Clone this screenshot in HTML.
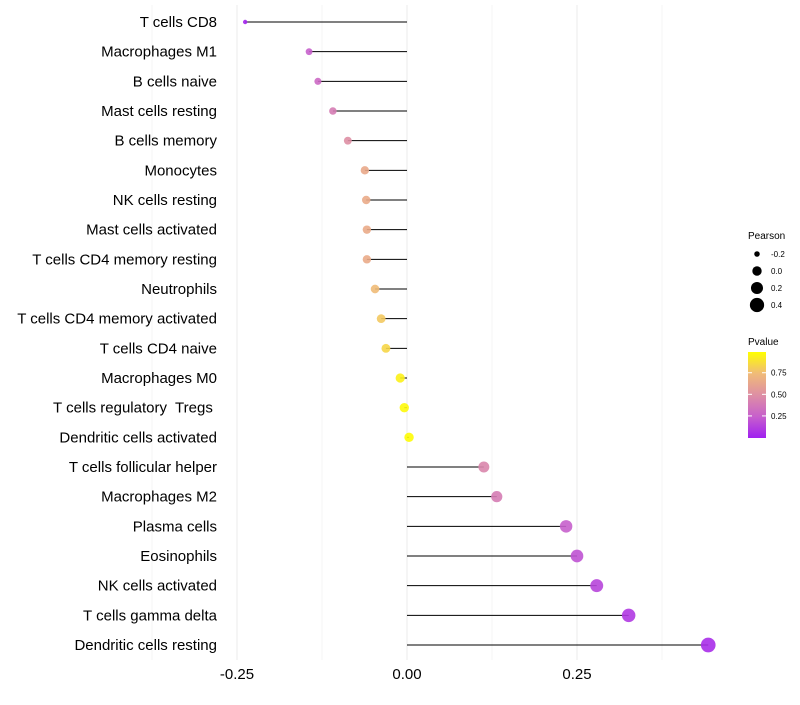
<!DOCTYPE html>
<html><head><meta charset="utf-8"><style>
body{margin:0;background:#fff;font-family:"Liberation Sans",Arial,sans-serif}
svg text{font-family:"Liberation Sans",Arial,sans-serif;white-space:pre}
</style></head><body>
<svg id="chart" width="800" height="700">
<defs><linearGradient id="pg" x1="0" y1="1" x2="0" y2="0">
<stop offset="0" stop-color="#a020f0"/><stop offset="0.25" stop-color="#c760cc"/>
<stop offset="0.5" stop-color="#de8fa4"/><stop offset="0.75" stop-color="#f0bb78"/>
<stop offset="1" stop-color="#ffff00"/></linearGradient></defs>
<g id="grid"></g><g id="marks"></g><g id="labels"></g><g id="legend"></g>
</svg>
<script>
const categories=["T cells CD8","Macrophages M1","B cells naive","Mast cells resting","B cells memory","Monocytes","NK cells resting","Mast cells activated","T cells CD4 memory resting","Neutrophils","T cells CD4 memory activated","T cells CD4 naive","Macrophages M0","T cells regulatory  Tregs ","Dendritic cells activated","T cells follicular helper","Macrophages M2","Plasma cells","Eosinophils","NK cells activated","T cells gamma delta","Dendritic cells resting"];
const pearson=[-0.238,-0.144,-0.131,-0.109,-0.087,-0.062,-0.060,-0.059,-0.059,-0.047,-0.038,-0.031,-0.010,-0.004,0.003,0.113,0.132,0.234,0.250,0.279,0.326,0.443];
const pvalue=[0.02,0.25,0.3,0.4,0.5,0.65,0.66,0.66,0.66,0.75,0.8,0.85,0.95,0.98,0.99,0.45,0.4,0.25,0.2,0.15,0.1,0.05];
const xTicks=[-0.25,0,0.25];
const xTickLabels=["-0.25","0.00","0.25"];
const sizeLegend=[-0.2,0,0.2,0.4];
const pLegend=[0.25,0.5,0.75];
const NS="http://www.w3.org/2000/svg";
function X(v){return 407+v*680;}
function Y(i){return 22+i*(623/21);}
function R(v){return Math.sqrt(Math.max(1.5,22+72*v));}
function hex(c){return c.map(x=>Math.round(x)).reduce((s,x)=>s+x.toString(16).padStart(2,'0'),'#');}
const stops=[[0,[160,32,240]],[0.25,[199,96,204]],[0.5,[222,143,164]],[0.75,[240,187,120]],[1,[255,255,0]]];
function col(p){for(let i=0;i<stops.length-1;i++){const a=stops[i],b=stops[i+1];if(p<=b[0]){const t=(p-a[0])/(b[0]-a[0]);return hex(a[1].map((v,k)=>v+(b[1][k]-v)*t));}}return "#ffff00";}
function mk(t,attrs,parent){const e=document.createElementNS(NS,t);for(const k in attrs)e.setAttribute(k,attrs[k]);document.getElementById(parent).appendChild(e);return e;}
[-0.375,-0.25,-0.125,0,0.125,0.25,0.375].forEach(v=>{const l=mk('line',{x1:X(v),x2:X(v),y1:5,y2:660,stroke:(v*8)%2===0?'#ebebeb':'#f5f5f5','stroke-width':1},'grid');

});
xTicks.forEach((v,i)=>{const t=mk('text',{x:X(v),y:679,'text-anchor':'middle','font-size':15,fill:'#000'},'labels');t.textContent=xTickLabels[i];

});
categories.forEach((c,i)=>{const y=Y(i);
const t=mk('text',{x:217,y:y+5,'text-anchor':'end','font-size':15,fill:'#000'},'labels');t.textContent=c;


const l=mk('line',{x1:X(0),x2:X(pearson[i]),y1:y,y2:y,stroke:'#000','stroke-width':1},'marks');


const p=mk('circle',{cx:X(pearson[i]),cy:y,r:R(pearson[i]),fill:col(pvalue[i]),'fill-opacity':0.9},'marks');

});
let t=mk('text',{x:748,y:239,'font-size':10},'legend');t.textContent='Pearson';


sizeLegend.forEach((v,i)=>{const y=254+i*17;
const c=mk('circle',{cx:757,cy:y,r:R(v),fill:'#000'},'legend');


const s=mk('text',{x:771,y:y+3,'font-size':8},'legend');s.textContent=v.toFixed(1);

});
t=mk('text',{x:748,y:345,'font-size':10},'legend');t.textContent='Pvalue';


const bar=mk('rect',{x:748,y:352,width:18,height:86,fill:'url(#pg)'},'legend');


pLegend.forEach(v=>{const y=437-(v-0.006)/0.984*85;
mk('line',{x1:748,x2:752,y1:y,y2:y,stroke:'#fff'},'legend');
mk('line',{x1:762,x2:766,y1:y,y2:y,stroke:'#fff'},'legend');
const s=mk('text',{x:771,y:y+3,'font-size':8},'legend');s.textContent=v.toFixed(2);

});
</script>
</body></html>
